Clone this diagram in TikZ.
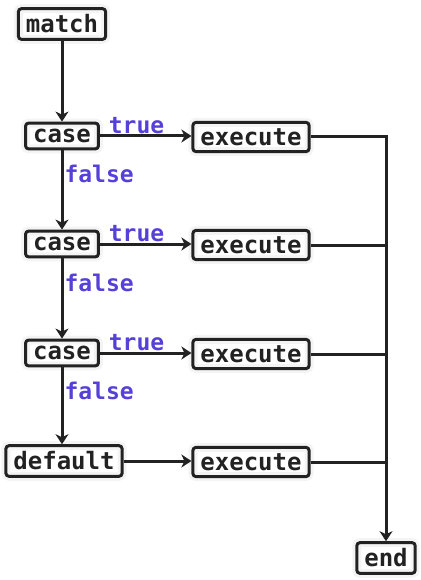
\documentclass[tikz,border=0pt]{standalone}
\usepackage{fontspec}
\setmonofont{DejaVu Sans Mono}
\usetikzlibrary{arrows.meta, positioning}
\definecolor{ink}{HTML}{222222}
\definecolor{halo}{HTML}{F4F4F4}
\definecolor{iris}{HTML}{5541D8}

\begin{document}
\begin{tikzpicture}[x=1pt, y=-1pt,
  font=\ttfamily\bfseries\fontsize{24}{24}\selectfont,
  b/.style={draw=ink, text=ink, line width=3pt, rounded corners=3pt,
            inner xsep=7.5pt, inner ysep=6pt,
            preaction={draw=halo, line width=9pt}},
  ln/.style={draw=ink, line width=3pt},
  ar/.style={ln, -{Stealth[length=10pt, width=13pt, inset=3pt]}},
  lbl/.style={text=iris, inner sep=1pt,
              font=\ttfamily\bfseries\fontsize{23}{23}\selectfont}]

\useasboundingbox (0,0) rectangle (420,580);

\node[b] (match) at (62,24) {match};
\node[b] (c1) at (62,136) {case};
\node[b] (x1) at (251,137) {execute};
\node[b] (c2) at (62,244) {case};
\node[b] (x2) at (251,245) {execute};
\node[b] (c3) at (62,353) {case};
\node[b] (x3) at (251,354) {execute};
\node[b] (dflt) at (64,461) {default};
\node[b] (x4) at (251,462) {execute};
\node[b] (end) at (386,558) {end};

\draw[ar] (match) -- (c1);
\draw[ar] (c1) -- node[lbl, above, pos=.4]{true} (c1 -| x1.west);
\draw[ar] (c1) -- node[lbl, right, pos=.3]{false} (c2);
\draw[ar] (c2) -- node[lbl, above, pos=.4]{true} (c2 -| x2.west);
\draw[ar] (c2) -- node[lbl, right, pos=.3]{false} (c3);
\draw[ar] (c3) -- node[lbl, above, pos=.4]{true} (c3 -| x3.west);
\draw[ar] (c3) -- node[lbl, right, pos=.3]{false} (c3 |- dflt.north);
\draw[ar] (dflt) -- (dflt -| x4.west);
\draw[ar] (x1) -| (end);
\draw[ln] (x2) -- (x2 -| end);
\draw[ln] (x3) -- (x3 -| end);
\draw[ln] (x4) -- (x4 -| end);
\end{tikzpicture}
\end{document}
